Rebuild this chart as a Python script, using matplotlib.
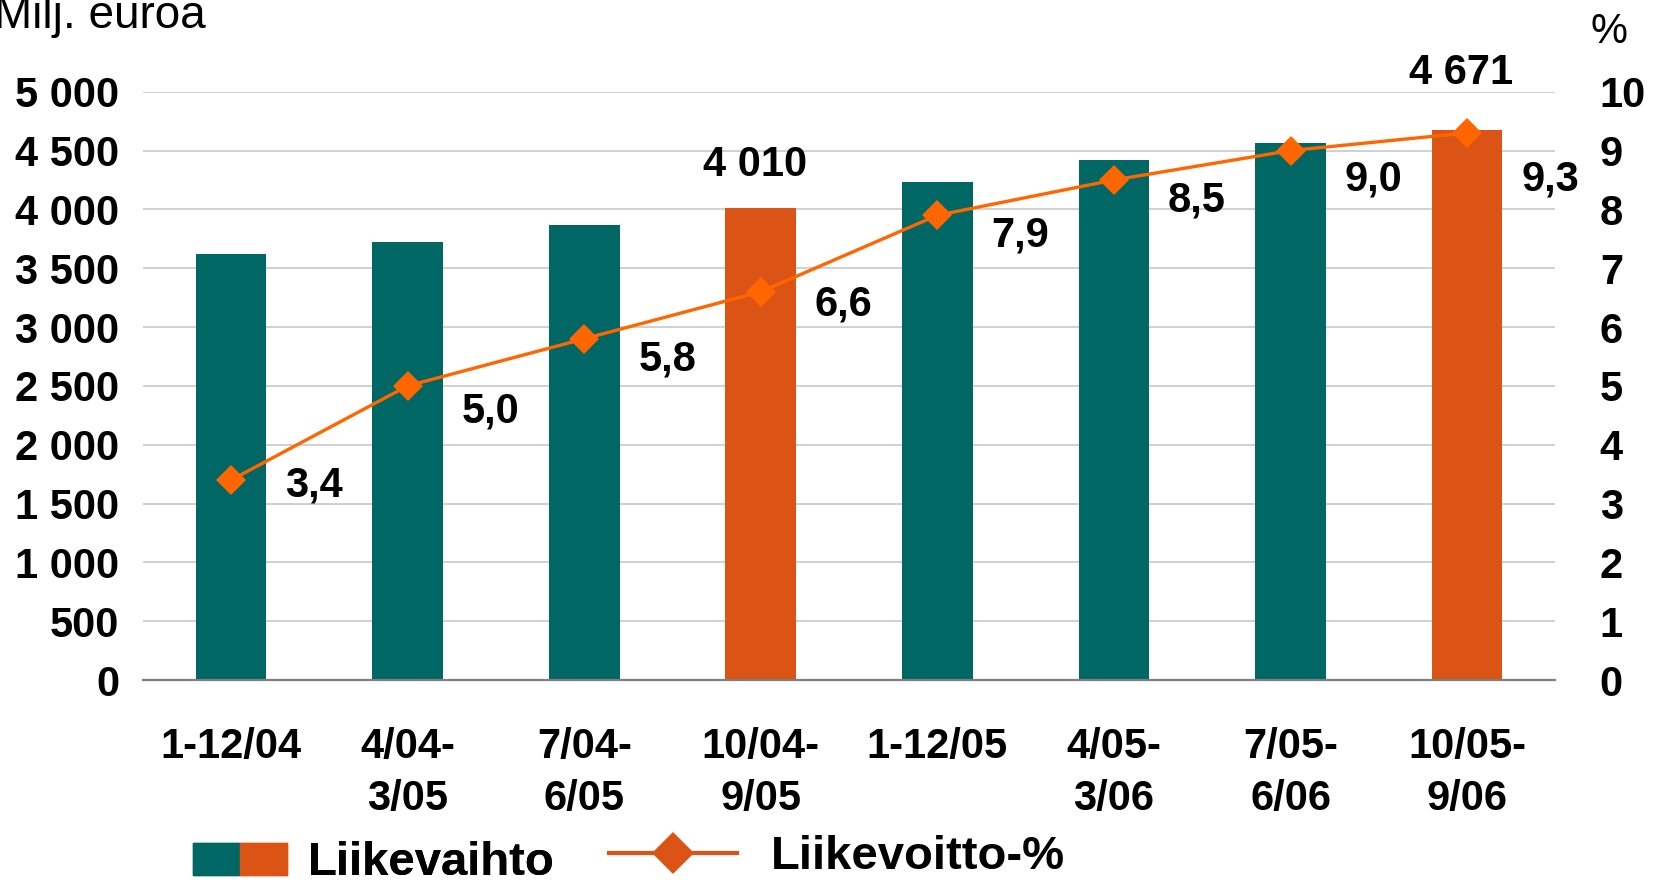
import matplotlib
matplotlib.use("Agg")
import matplotlib.pyplot as plt
from matplotlib.patches import Patch
from matplotlib.lines import Line2D
from matplotlib.legend_handler import HandlerTuple

# data
periods = ["1-12/04", "4/04-\n3/05", "7/04-\n6/05", "10/04-\n9/05",
           "1-12/05", "4/05-\n3/06", "7/05-\n6/06", "10/05-\n9/06"]
liikevaihto = [3620, 3720, 3870, 4010, 4230, 4420, 4560, 4671]
liikevoitto_pct = [3.4, 5.0, 5.8, 6.6, 7.9, 8.5, 9.0, 9.3]
highlight = [False, False, False, True, False, False, False, True]
left_ticks = [0, 500, 1000, 1500, 2000, 2500, 3000, 3500, 4000, 4500, 5000]
left_ticklabels = ["0", "500", "1 000", "1 500", "2 000", "2 500", "3 000",
                   "3 500", "4 000", "4 500", "5 000"]
right_ticks = list(range(0, 11))

TEAL = "#006764"
ORANGE = "#DC5316"
LINE = "#FF6600"

plt.rcParams["font.family"] = ["Liberation Sans", "DejaVu Sans"]
FS = 30

fig = plt.figure(figsize=(16.6, 8.82), dpi=100)
ax = fig.add_axes([0.086, 0.229, 0.851, 0.667])
ax2 = ax.twinx()

x = list(range(len(periods)))
colors = [ORANGE if h else TEAL for h in highlight]
ax.bar(x, liikevaihto, width=0.4, color=colors, zorder=2)

ax.set_xlim(-0.5, len(periods) - 0.5)
ax.set_ylim(0, 5000)
ax.set_yticks(left_ticks)
ax.set_yticklabels(left_ticklabels, fontsize=FS, fontweight="bold")
ax.set_xticks(x)
ax.set_xticklabels(periods, fontsize=FS, fontweight="bold", linespacing=1.38)
ax.tick_params(axis="x", length=0, pad=34)
ax.tick_params(axis="y", length=0, pad=17)
ax.grid(axis="y", color="#C8C8C8", linewidth=1.2, zorder=0)
ax.set_axisbelow(True)
for s in ["top", "left", "right"]:
    ax.spines[s].set_visible(False)
ax.spines["bottom"].set_color("#7F7F7F")
ax.spines["bottom"].set_linewidth(1.6)

ax2.plot(x, liikevoitto_pct, color=LINE, linewidth=2.4, marker="D",
         markersize=15, markeredgewidth=0, zorder=3)
ax2.set_ylim(0, 10)
ax2.set_yticks(right_ticks)
ax2.set_yticklabels([str(t) for t in right_ticks], fontsize=FS, fontweight="bold")
ax2.tick_params(axis="y", length=0, pad=32)
for s in ["top", "left", "right", "bottom"]:
    ax2.spines[s].set_visible(False)

# value labels above highlighted bars
bar_label_offsets = {3: 32, 7: 46}
for i, dy in bar_label_offsets.items():
    ax.annotate(f"{liikevaihto[i]:,}".replace(",", " "), (x[i], liikevaihto[i]),
                xytext=(-6, dy), textcoords="offset pixels", ha="center",
                va="baseline", fontsize=FS, fontweight="bold")

# percentage labels right of the points
pct_dy = [-5, -26, -21, -13, -20, -21, -29, -47]
for i, v in enumerate(liikevoitto_pct):
    ax2.annotate(f"{v:.1f}".replace(".", ","), (x[i], v),
                 xytext=(83, pct_dy[i]), textcoords="offset pixels",
                 ha="center", va="center", fontsize=FS, fontweight="bold")

fig.text(0.124, 0.968, "Milj. euroa", ha="right", va="baseline", fontsize=33)
fig.text(0.969, 0.951, "%", ha="center", va="baseline", fontsize=FS)

# legend
leg1 = fig.legend([(Patch(color=TEAL), Patch(color=ORANGE))], ["Liikevaihto"],
                  handler_map={tuple: HandlerTuple(ndivide=None, pad=0)},
                  loc="center left", bbox_to_anchor=(0.116, 0.021),
                  frameon=False, handlelength=2.0, handleheight=0.68,
                  handletextpad=0.45, borderpad=0, borderaxespad=0,
                  prop={"size": 34, "weight": "bold"})
fig.add_artist(leg1)
leg2 = fig.legend([Line2D([0], [0], color=ORANGE, linewidth=3, marker="D",
                          markersize=21, markeredgewidth=0)], ["Liikevoitto-%"],
                  loc="center left", bbox_to_anchor=(0.367, 0.028),
                  frameon=False, handlelength=2.7, handletextpad=0.72,
                  borderpad=0, borderaxespad=0,
                  prop={"size": 34, "weight": "bold"})

fig.savefig("out.png", dpi=100)
